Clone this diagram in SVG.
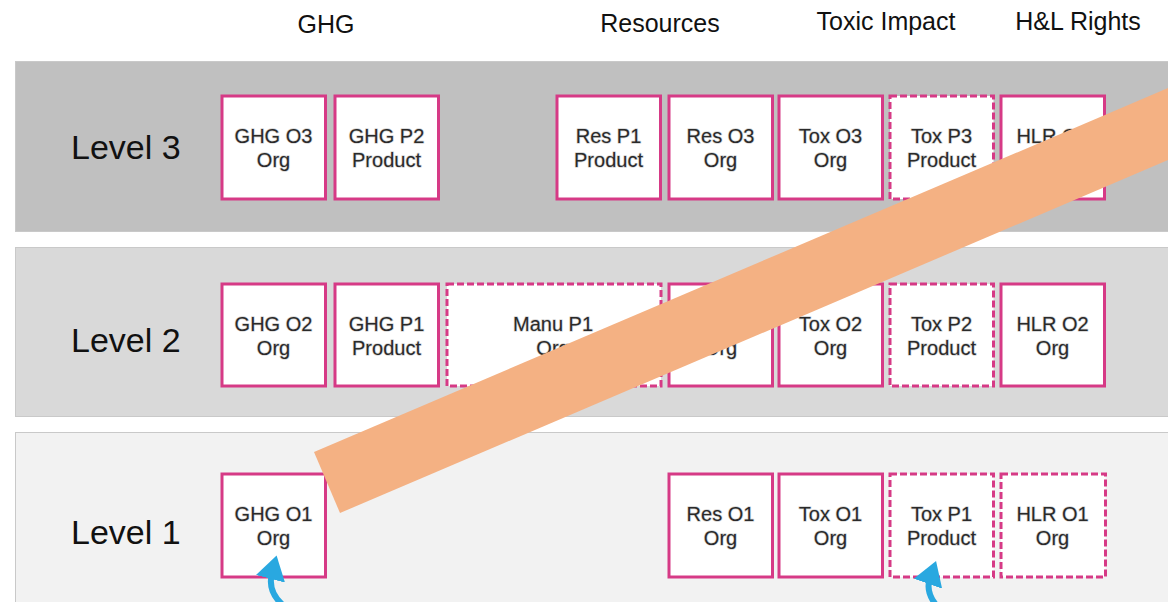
<svg xmlns="http://www.w3.org/2000/svg" width="1168" height="602" viewBox="0 0 1168 602">
<style>
.hdr{font-family:"Liberation Sans",Arial,sans-serif;font-size:25px;fill:#111;text-anchor:middle}
.lvl{font-family:"Liberation Sans",Arial,sans-serif;font-size:34px;fill:#111}
.box{fill:#fff;stroke:#d63a86;stroke-width:3}
.dash{stroke-dasharray:7 3}
.lbl{font-family:"Liberation Sans",Arial,sans-serif;font-size:20px;fill:#2a2a2a;text-anchor:middle;stroke:#d4d4d4;stroke-width:1.4;paint-order:stroke;stroke-linejoin:round}
.band{stroke:#c9c9c9;stroke-width:1}
.conn{fill:none;stroke:#29a8e0;stroke-width:6}
</style>
<defs>
<marker id="ah" markerWidth="5" markerHeight="5" refX="1" refY="2.5" orient="auto" markerUnits="strokeWidth">
<path d="M0,0 L4,2.5 L0,5 Z" fill="#29a8e0"/>
</marker>
</defs>
<rect width="1168" height="602" fill="#fff"/>
<g id="headers">
<text class="hdr" x="326" y="33">GHG</text>
<text class="hdr" x="660" y="32">Resources</text>
<text class="hdr" x="886" y="30">Toxic Impact</text>
<text class="hdr" x="1078" y="30">H&amp;L Rights</text>
</g>
<g id="band3">
<rect class="band" x="15.5" y="61.5" width="1160" height="170" fill="#c0c0c0"/>
<text class="lvl" x="71" y="159">Level 3</text>
</g>
<g id="band2">
<rect class="band" x="15.5" y="247.5" width="1160" height="169" fill="#d9d9d9"/>
<text class="lvl" x="71" y="352">Level 2</text>
</g>
<g id="band1">
<rect class="band" x="15.5" y="432.5" width="1160" height="180" fill="#f2f2f2"/>
<text class="lvl" x="71" y="544">Level 1</text>
</g>
<g id="ghg-o3"><rect class="box" x="222" y="96" width="103.5" height="103"/><text class="lbl" x="273.5" y="143">GHG O3</text><text class="lbl" x="273.5" y="167">Org</text></g>
<g id="ghg-p2"><rect class="box" x="335" y="96" width="103.5" height="103"/><text class="lbl" x="386.5" y="143">GHG P2</text><text class="lbl" x="386.5" y="167">Product</text></g>
<g id="res-p1"><rect class="box" x="557" y="96" width="103.5" height="103"/><text class="lbl" x="608.5" y="143">Res P1</text><text class="lbl" x="608.5" y="167">Product</text></g>
<g id="res-o3"><rect class="box" x="669" y="96" width="103.5" height="103"/><text class="lbl" x="720.5" y="143">Res O3</text><text class="lbl" x="720.5" y="167">Org</text></g>
<g id="tox-o3"><rect class="box" x="779" y="96" width="103.5" height="103"/><text class="lbl" x="830.5" y="143">Tox O3</text><text class="lbl" x="830.5" y="167">Org</text></g>
<g id="tox-p3"><rect class="box dash" x="890" y="96" width="103.5" height="103"/><text class="lbl" x="941.5" y="143">Tox P3</text><text class="lbl" x="941.5" y="167">Product</text></g>
<g id="hlr-o3"><rect class="box" x="1001" y="96" width="103.5" height="103"/><text class="lbl" x="1052.5" y="143">HLR O3</text><text class="lbl" x="1052.5" y="167">Org</text></g>
<g id="ghg-o2"><rect class="box" x="222" y="284" width="103.5" height="102"/><text class="lbl" x="273.5" y="331">GHG O2</text><text class="lbl" x="273.5" y="355">Org</text></g>
<g id="ghg-p1"><rect class="box" x="335" y="284" width="103.5" height="102"/><text class="lbl" x="386.5" y="331">GHG P1</text><text class="lbl" x="386.5" y="355">Product</text></g>
<g id="manu-p1"><rect class="box dash" x="447" y="284" width="214" height="102"/><text class="lbl" x="553" y="331">Manu P1</text><text class="lbl" x="553" y="355">Org</text></g>
<g id="res-o2"><rect class="box" x="669" y="284" width="103.5" height="102"/><text class="lbl" x="720.5" y="331">Res O2</text><text class="lbl" x="720.5" y="355">Org</text></g>
<g id="tox-o2"><rect class="box" x="779" y="284" width="103.5" height="102"/><text class="lbl" x="830.5" y="331">Tox O2</text><text class="lbl" x="830.5" y="355">Org</text></g>
<g id="tox-p2"><rect class="box dash" x="890" y="284" width="103.5" height="102"/><text class="lbl" x="941.5" y="331">Tox P2</text><text class="lbl" x="941.5" y="355">Product</text></g>
<g id="hlr-o2"><rect class="box" x="1001" y="284" width="103.5" height="102"/><text class="lbl" x="1052.5" y="331">HLR O2</text><text class="lbl" x="1052.5" y="355">Org</text></g>
<g id="ghg-o1"><rect class="box" x="222" y="474" width="103.5" height="103"/><text class="lbl" x="273.5" y="521">GHG O1</text><text class="lbl" x="273.5" y="545">Org</text></g>
<g id="res-o1"><rect class="box" x="669" y="474" width="103.5" height="103"/><text class="lbl" x="720.5" y="521">Res O1</text><text class="lbl" x="720.5" y="545">Org</text></g>
<g id="tox-o1"><rect class="box" x="779" y="474" width="103.5" height="103"/><text class="lbl" x="830.5" y="521">Tox O1</text><text class="lbl" x="830.5" y="545">Org</text></g>
<g id="tox-p1"><rect class="box dash" x="890" y="474" width="103.5" height="103"/><text class="lbl" x="941.5" y="521">Tox P1</text><text class="lbl" x="941.5" y="545">Product</text></g>
<g id="hlr-o1"><rect class="box dash" x="1001" y="474" width="104.5" height="103"/><text class="lbl" x="1052.5" y="521">HLR O1</text><text class="lbl" x="1052.5" y="545">Org</text></g>
<g id="connectors">
<path class="conn" d="M284,606 Q267,592 272,573" marker-end="url(#ah)"/>
<path class="conn" d="M937,606 Q925,592 930,578" marker-end="url(#ah)"/>
</g>
<g id="strike">
<polygon points="314,452 1180,83 1180,155 340,513" fill="#f4b183"/>
</g>
</svg>
